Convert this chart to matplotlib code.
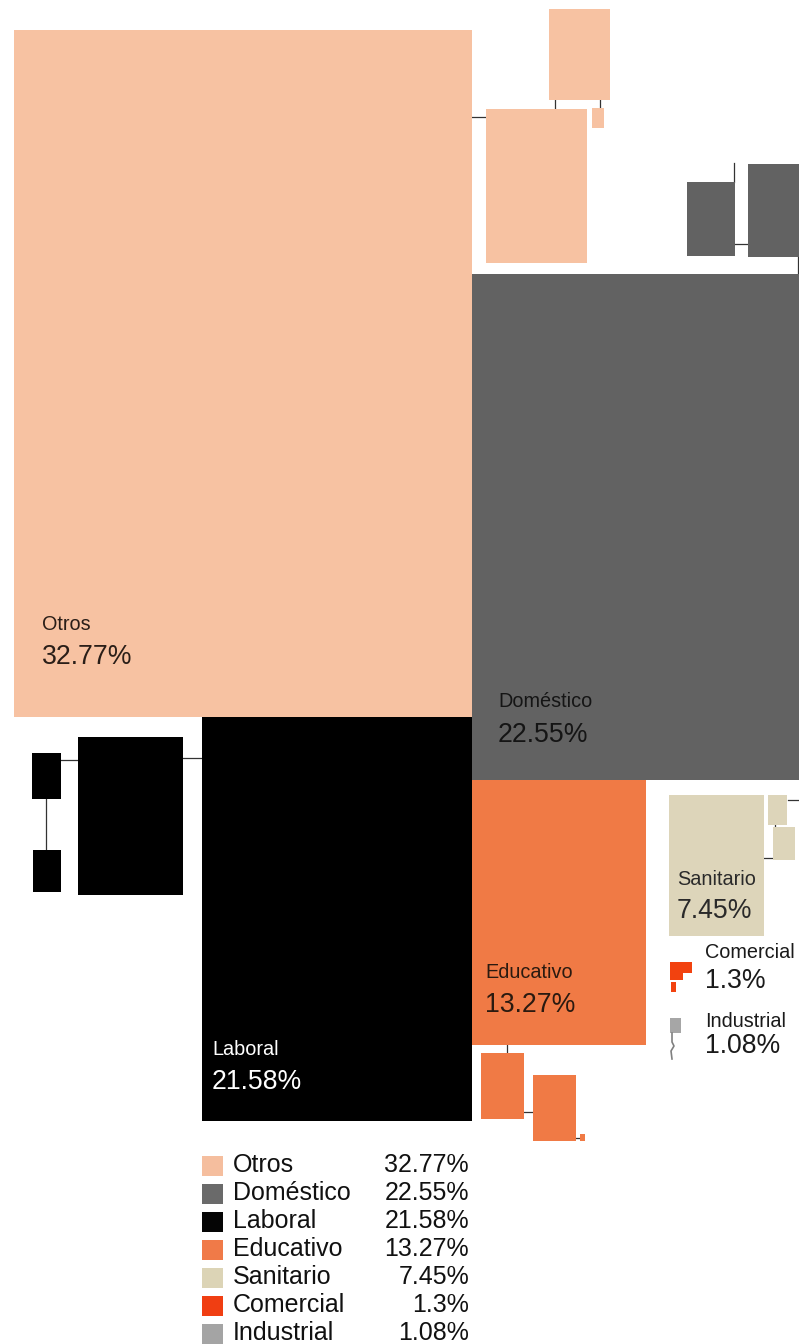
import matplotlib.pyplot as plt
from matplotlib.patches import Rectangle

# data
categories = ["Otros", "Doméstico", "Laboral", "Educativo", "Sanitario", "Comercial", "Industrial"]
values = [32.77, 22.55, 21.58, 13.27, 7.45, 1.3, 1.08]
colors = ["#F7C2A2", "#626262", "#000000", "#F07A45", "#DDD5BA", "#F2420F", "#A6A6A6"]
legend_colors = ["#F5BE9E", "#6A6A6A", "#050505", "#F07A48", "#DCD4B6", "#F03E12", "#A4A4A4"]
label_colors = ["#2a1e18", "#151515", "#ffffff", "#2a1a10", "#2a2a2a", "#1a1a1a", "#1a1a1a"]

# layout (pixel space, y downwards): main boxes
main_boxes = {
    "Otros": (14, 30, 458, 687),
    "Doméstico": (472, 274, 340, 506),
    "Laboral": (202, 717, 270, 404),
    "Educativo": (472, 780, 174, 265),
    "Sanitario": (669, 795, 95, 141),
}
# sub-boxes of each category (drawn in the category colour)
sub_boxes = {
    "Otros": [(486, 109, 101, 154), (549, 9, 61, 91), (592, 108, 12, 20)],
    "Doméstico": [(687, 182, 48, 74), (748, 164, 60, 93)],
    "Laboral": [(78, 737, 105, 158), (32, 753, 29, 46), (33, 850, 28, 42)],
    "Educativo": [(481, 1053, 43, 66), (533, 1075, 43, 66), (580, 1134, 5, 7)],
    "Sanitario": [(768, 795, 19, 30), (773, 827, 22, 33)],
    "Comercial": [(670, 962, 22, 11), (670, 973, 13, 7), (671, 982, 5, 10)],
    "Industrial": [(670, 1018, 11, 15)],
}
connectors = [
    ((472, 117), (486, 117)), ((555, 100), (555, 109)), ((600, 100), (600, 108)),
    ((734, 163), (734, 182)), ((735, 244), (748, 244)), ((798, 257), (798, 274)),
    ((183, 758), (202, 758)), ((61, 760), (78, 760)), ((46, 799), (46, 850)),
    ((507, 1045), (507, 1053)), ((524, 1112), (533, 1112)), ((576, 1138), (580, 1138)),
    ((788, 800), (799, 800)), ((764, 858), (773, 858)), ((775, 822), (775, 828)),
]
# label anchor (x, baseline of name, baseline of value)
label_pos = {
    "Otros": (42, 630, 664),
    "Doméstico": (498, 707, 742),
    "Laboral": (212, 1055, 1089),
    "Educativo": (485, 978, 1012),
    "Sanitario": (677, 885, 918),
    "Comercial": (705, 958, 988),
    "Industrial": (705, 1027, 1053),
}

plt.rcParams['font.family'] = ['Liberation Sans', 'DejaVu Sans']
fig = plt.figure(figsize=(7.99, 13.44), dpi=100)
ax = fig.add_axes([0, 0, 1, 1])
ax.set_xlim(0, 799)
ax.set_ylim(1344, 0)
ax.axis("off")

for (p0, p1) in connectors:
    ax.plot([p0[0], p1[0]], [p0[1], p1[1]], color="#333333", lw=0.9, zorder=1)

for cat, col in zip(categories, colors):
    if cat in main_boxes:
        x, y, w, h = main_boxes[cat]
        ax.add_patch(Rectangle((x, y), w, h, color=col, lw=0, zorder=2))
    for (x, y, w, h) in sub_boxes.get(cat, []):
        ax.add_patch(Rectangle((x, y), w, h, color=col, lw=0, zorder=2))

# industrial tail
ax.plot([672, 672, 674, 671, 672], [1033, 1042, 1046, 1051, 1059], color="#808080", lw=1.2, zorder=2)

for cat, val, tc in zip(categories, values, label_colors):
    x, yb1, yb2 = label_pos[cat]
    ax.text(x, yb1, cat, fontsize=14.3, color=tc, va="baseline", ha="left", zorder=3)
    ax.text(x, yb2, f"{val:g}%", fontsize=19.2, color=tc, va="baseline", ha="left", zorder=3)

# legend
for i, (cat, val, lc) in enumerate(zip(categories, values, legend_colors)):
    yb = 1172 + i * 28.0
    ax.add_patch(Rectangle((202, yb - 16), 21, 20, color=lc, lw=0))
    ax.text(233, yb, cat, fontsize=18, color="#111111", va="baseline", ha="left")
    ax.text(469, yb, f"{val:g}%", fontsize=18, color="#111111", va="baseline", ha="right")

fig.savefig("out.png", dpi=100)
